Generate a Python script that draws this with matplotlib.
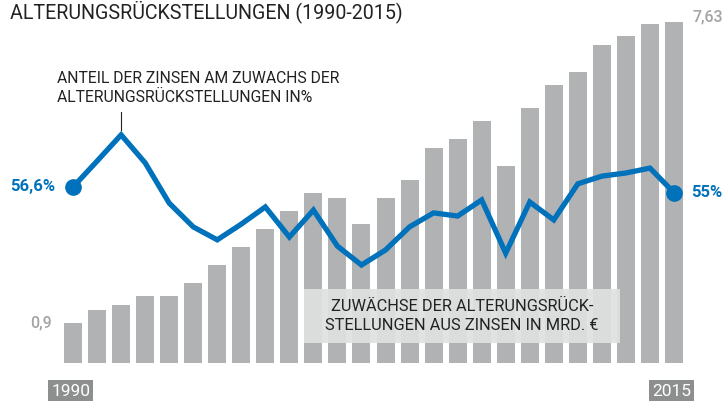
import matplotlib
matplotlib.use("Agg")
import matplotlib.pyplot as plt
import matplotlib.transforms as mtransforms
from matplotlib.patches import Rectangle

years = list(range(1990, 2016))
zuwachs_zinsen = [0.90, 1.19, 1.30, 1.50, 1.50, 1.79, 2.19, 2.60, 3.00, 3.40,
                  3.80, 3.69, 3.11, 3.69, 4.09, 4.81, 5.01, 5.42, 4.41, 5.71,
                  6.22, 6.51, 7.12, 7.32, 7.59, 7.63]
anteil_zinsen = [56.6, 64.0, 71.5, 63.5, 52.0, 45.2, 41.5, 46.0, 50.9, 42.3,
                 50.0, 39.7, 34.3, 38.6, 45.2, 49.2, 48.3, 52.9, 37.7, 52.3,
                 47.2, 57.5, 59.7, 60.6, 62.0, 55.0]
title = "ALTERUNGSRÜCKSTELLUNGEN (1990-2015)"
line_label = "ANTEIL DER ZINSEN AM ZUWACHS DER\nALTERUNGSRÜCKSTELLUNGEN IN%"
bar_label = "ZUWÄCHSE DER ALTERUNGSRÜCK-\nSTELLUNGEN AUS ZINSEN IN MRD. €"

BAR = "#B1B2B4"
BLUE = "#0071BB"
GREYTXT = "#A3A4A6"
DARK = "#222222"
YEARBOX = "#8D8E8E"

plt.rcParams['font.family'] = ['Roboto', 'DejaVu Sans']

W, H = 725, 401
fig = plt.figure(figsize=(W/100, H/100), dpi=100)
fig.patch.set_facecolor("white")

def fx(x): return x / W
def fy(y): return 1 - y / H

ax = fig.add_axes([fx(49), fy(363), fx(698) - fx(49), fy(22) - fy(363)])
x = list(range(len(years)))
ax.bar(x, zuwachs_zinsen, width=0.75, color=BAR, zorder=1)
ax.set_xlim(-1, 26)
ax.set_ylim(0, zuwachs_zinsen[-1])
ax.axis("off")

ax2 = ax.twinx()
ax2.set_ylim(6.31, 103.74)
ax2.axis("off")
ax2.plot(x, anteil_zinsen, color=BLUE, lw=3.8, solid_joinstyle="miter",
         solid_capstyle="butt", zorder=3)
ax2.plot([x[0], x[-1]], [anteil_zinsen[0], anteil_zinsen[-1]], "o",
         color=BLUE, ms=11, zorder=4)

def de(v, fmt):
    return (fmt % v).replace(".", ",")

ax.annotate(de(zuwachs_zinsen[0], "%.1f"), xy=(x[0], zuwachs_zinsen[0]),
            xytext=(-15, 0), textcoords="offset points", ha="right", va="center",
            color=GREYTXT, fontsize=11.5, fontweight="medium")
ax.annotate(de(zuwachs_zinsen[-1], "%.2f"), xy=(x[-1], zuwachs_zinsen[-1]),
            xytext=(13, 3.5), textcoords="offset points", ha="left", va="center",
            color=GREYTXT, fontsize=11.5, fontweight="medium")
ax2.annotate(de(anteil_zinsen[0], "%.1f") + "%", xy=(x[0], anteil_zinsen[0]),
             xytext=(-13, 0), textcoords="offset points", ha="right", va="center",
             color=BLUE, fontsize=12, fontweight="bold")
ax2.annotate("%d%%" % round(anteil_zinsen[-1]), xy=(x[-1], anteil_zinsen[-1]),
             xytext=(12, 0), textcoords="offset points", ha="left", va="center",
             color=BLUE, fontsize=12, fontweight="bold")

fig.text(fx(10), fy(12), title, ha="left", va="center", fontsize=14.1,
         color=DARK)

fig.text(fx(57), fy(88), line_label, ha="left", va="center", fontsize=11.3,
         color=DARK, linespacing=1.35)
ax2.plot([x[2], x[2]], [anteil_zinsen[2] + 1.4, anteil_zinsen[2] + 6.6],
         color=DARK, lw=0.8, zorder=2)

trans = mtransforms.blended_transform_factory(ax.transData, fig.transFigure)
ax.add_patch(Rectangle((9.61, fy(343)), 13.15, fy(289) - fy(343),
                       transform=trans, facecolor="#DFE0E0", alpha=0.92,
                       edgecolor="none", zorder=2, clip_on=False))
fig.text(fx(462), fy(316), bar_label, ha="center", va="center", fontsize=11.8,
         color=DARK, linespacing=1.35)

for i in (0, len(years) - 1):
    ax.text(x[i] - 0.1, fy(391), str(years[i]), transform=trans, ha="center",
            va="center", color="white", fontsize=12.5,
            bbox=dict(boxstyle="square,pad=0.18", facecolor=YEARBOX,
                      edgecolor="none"))

fig.savefig("out.png", dpi=100, facecolor="white")
